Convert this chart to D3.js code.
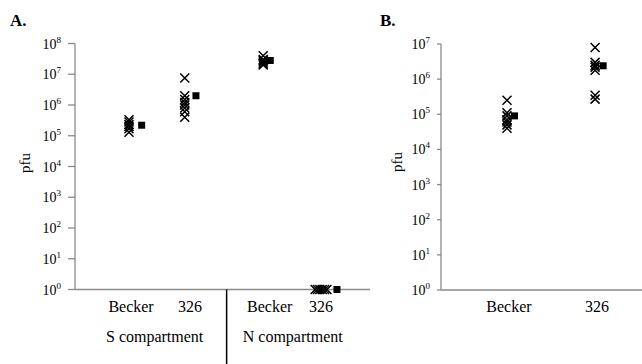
<!DOCTYPE html>
<html><head><meta charset="utf-8">
<script src="https://cdn.jsdelivr.net/npm/d3@7"></script>
<style>
html,body{margin:0;padding:0;background:#fff;}
</style>
</head><body>
<svg id="c" width="642" height="364" font-family="'Liberation Serif', 'DejaVu Serif', 'Times New Roman', serif"></svg>
<script>
// ---------- Data ----------
// Panel A: individual replicates (pfu)
const aSBecker = [3.3e5, 2.8e5, 2.3e5, 2.0e5, 1.7e5, 1.3e5];
const aS326    = [7.5e6, 2.0e6, 1.5e6, 1.2e6, 1.0e6, 8.0e5, 6.0e5, 4.0e5];
const aNBecker = [4.0e7, 3.0e7, 2.8e7, 2.5e7, 2.2e7, 2.0e7];
const aN326    = [1, 1, 1, 1, 1, 1];
const aMeans   = [2.2e5, 2.0e6, 2.8e7, 1];
const aGroups  = ["Becker", "326", "Becker", "326"];
const aCompartments = ["S compartment", "N compartment"];
// x positions (chart units) of replicates, means and labels
const aRepX    = [0.915, 1.86, 3.19, 4.07];
const aRepStep = [0, 0, 0, 0.04];           // horizontal spread of replicates
const aMeanX   = [1.13, 2.05, 3.31, 4.44];
const aLabelX  = [0.95, 1.95, 3.30, 4.17];
const aCompX   = [1.35, 3.69];
const aDividerX = 2.57;
const aTicks   = [0,1,2,3,4,5,6,7,8];

// Panel B
const bBecker = [2.5e5, 1.1e5, 9.0e4, 7.0e4, 6.0e4, 5.0e4, 4.0e4];
const b326    = [8.0e6, 3.0e6, 2.5e6, 2.2e6, 1.8e6, 3.5e5, 2.7e5];
const bMeans  = [9.0e4, 2.4e6];
const bGroups = ["Becker", "326"];
const bRepX   = [0.985, 2.30];
const bMeanX  = [1.097, 2.42];
const bLabelX = [1.015, 2.33];
const bTicks  = [0,1,2,3,4,5,6,7];

// ---------- Drawing ----------
const svg = d3.select("#c");
const FONT = "'Liberation Serif', 'DejaVu Serif', 'Times New Roman', serif";
const axisCol = "#8a8a8a";

function txt(g) {
  return g.append("text").attr("font-family", FONT).attr("fill", "#000");
}
function xMark(g, cx, cy, r) {
  g.append("path")
   .attr("d", `M${cx-r},${cy-r}L${cx+r},${cy+r}M${cx-r},${cy+r}L${cx+r},${cy-r}`)
   .attr("stroke", "#000").attr("stroke-width", 1.5).attr("fill", "none");
}
function sqMark(g, cx, cy, s) {
  g.append("rect").attr("x", cx - s/2).attr("y", cy - s/2)
   .attr("width", s).attr("height", s).attr("fill", "#000");
}

function drawYAxis(g, y, x0, ticks, tickLen, labelRight) {
  g.append("line").attr("x1", x0).attr("x2", x0)
   .attr("y1", y(Math.pow(10, ticks[ticks.length-1]))).attr("y2", y(1))
   .attr("stroke", axisCol).attr("stroke-width", 1.3);
  ticks.forEach(t => {
    const yy = y(Math.pow(10, t));
    g.append("line").attr("x1", x0 - tickLen).attr("x2", x0)
     .attr("y1", yy).attr("y2", yy).attr("stroke", axisCol).attr("stroke-width", 1.3);
    const tx = txt(g).attr("x", labelRight).attr("y", yy + 5)
      .attr("text-anchor", "end").attr("font-size", 14);
    tx.append("tspan").text("10");
    tx.append("tspan").attr("dy", -6).attr("font-size", 9).text(String(t));
  });
}

// ----- Panel A -----
const gA = svg.append("g");
const yA = d3.scaleLog().domain([1, 1e8]).range([289.5, 43.5]);
const xA = d3.scaleLinear().domain([0, 5]).range([75, 370]);

drawYAxis(gA, yA, 75, aTicks, 7, 61);
gA.append("line").attr("x1", xA(0)).attr("x2", xA(5)).attr("y1", yA(1)).attr("y2", yA(1))
  .attr("stroke", axisCol).attr("stroke-width", 1.3);
gA.append("line").attr("x1", xA(aDividerX)).attr("x2", xA(aDividerX))
  .attr("y1", yA(1)).attr("y2", 364).attr("stroke", "#000").attr("stroke-width", 1.5);

[aSBecker, aS326, aNBecker, aN326].forEach((arr, i) => {
  arr.forEach((v, j) => xMark(gA, xA(aRepX[i] + aRepStep[i]*j), yA(v), 4.5));
  sqMark(gA, xA(aMeanX[i]), yA(aMeans[i]), 7);
});

aGroups.forEach((lab, i) => {
  txt(gA).attr("x", xA(aLabelX[i])).attr("y", 312)
    .attr("text-anchor", "middle").attr("font-size", 16).text(lab);
});
aCompartments.forEach((lab, i) => {
  txt(gA).attr("x", xA(aCompX[i])).attr("y", 342)
    .attr("text-anchor", "middle").attr("font-size", 16).text(lab);
});
txt(gA).attr("transform", "translate(30,163) rotate(-90)")
  .attr("text-anchor", "middle").attr("font-size", 15).text("pfu");
txt(gA).attr("x", 10).attr("y", 26).attr("font-size", 17)
  .attr("font-weight", "bold").text("A.");

// ----- Panel B -----
const gB = svg.append("g");
const yB = d3.scaleLog().domain([1, 1e7]).range([290, 44]);
const xB = d3.scaleLinear().domain([0, 3]).range([441, 642]);

drawYAxis(gB, yB, 441, bTicks, 4, 430);
gB.append("line").attr("x1", xB(0)).attr("x2", xB(3)).attr("y1", yB(1)).attr("y2", yB(1))
  .attr("stroke", axisCol).attr("stroke-width", 1.3);

[bBecker, b326].forEach((arr, i) => {
  arr.forEach(v => xMark(gB, xB(bRepX[i]), yB(v), 4.5));
  sqMark(gB, xB(bMeanX[i]), yB(bMeans[i]), 7);
});
bGroups.forEach((lab, i) => {
  txt(gB).attr("x", xB(bLabelX[i])).attr("y", 312)
    .attr("text-anchor", "middle").attr("font-size", 16).text(lab);
});
txt(gB).attr("transform", "translate(402,162) rotate(-90)")
  .attr("text-anchor", "middle").attr("font-size", 15).text("pfu");
txt(gB).attr("x", 380).attr("y", 26).attr("font-size", 17)
  .attr("font-weight", "bold").text("B.");
</script>
</body></html>
